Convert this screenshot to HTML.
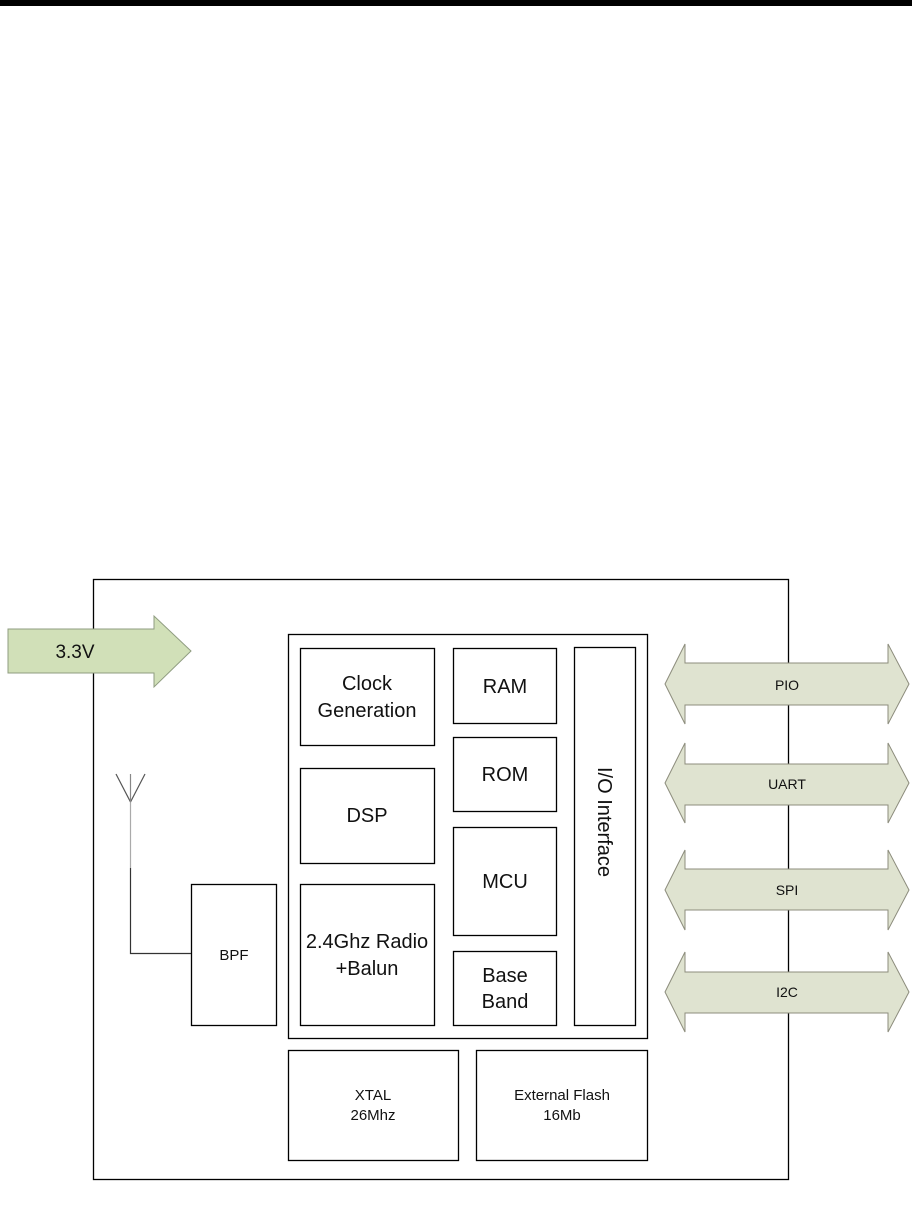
<!DOCTYPE html>
<html><head><style>
html,body{margin:0;padding:0;background:#fff;}
svg{display:block;}
text{font-family:"Liberation Sans",sans-serif;fill:#111;}
</style></head><body>
<svg width="912" height="1207" viewBox="0 0 912 1207" xmlns="http://www.w3.org/2000/svg">
<rect x="0" y="0" width="912" height="6" fill="#000"/>
<g fill="none" stroke="#000" stroke-width="1.3">
<rect x="93.5" y="579.5" width="695" height="600"/>
<rect x="288.5" y="634.5" width="359" height="404"/>
<rect x="300.5" y="648.5" width="134" height="97"/>
<rect x="300.5" y="768.5" width="134" height="95"/>
<rect x="300.5" y="884.5" width="134" height="141"/>
<rect x="453.5" y="648.5" width="103" height="75"/>
<rect x="453.5" y="737.5" width="103" height="74"/>
<rect x="453.5" y="827.5" width="103" height="108"/>
<rect x="453.5" y="951.5" width="103" height="74"/>
<rect x="574.5" y="647.5" width="61" height="378"/>
<rect x="191.5" y="884.5" width="85" height="141"/>
<rect x="288.5" y="1050.5" width="170" height="110"/>
<rect x="476.5" y="1050.5" width="171" height="110"/>
</g>
<g stroke-width="1.2" fill="none">
<line x1="130.5" y1="802" x2="130.5" y2="868" stroke="#aaa"/>
<polyline points="130.5,868 130.5,953.5 191,953.5" stroke="#333"/>
<line x1="116" y1="774" x2="130.5" y2="802" stroke="#555"/>
<line x1="145" y1="774" x2="130.5" y2="802" stroke="#555"/>
<line x1="130.5" y1="774" x2="130.5" y2="802" stroke="#888"/>
</g>
<polygon points="8,629 154,629 154,616 191,651 154,687 154,673 8,673" fill="#d1e0b8" stroke="#8f9c80" stroke-width="1"/>
<text x="75" y="658" font-size="19" text-anchor="middle">3.3V</text>
<g fill="#dfe3d0" stroke="#8c8c7c" stroke-width="1">
<polygon points="665,684 685,644 685,663 888,663 888,644 909,684 888,724 888,705 685,705 685,724"/>
<polygon points="665,783 685,743 685,764 888,764 888,743 909,783 888,823 888,805 685,805 685,823"/>
<polygon points="665,890 685,850 685,869 888,869 888,850 909,890 888,930 888,910 685,910 685,930"/>
<polygon points="665,992 685,952 685,972 888,972 888,952 909,992 888,1032 888,1013 685,1013 685,1032"/>
</g>
<g font-size="14" text-anchor="middle">
<text x="787" y="690">PIO</text>
<text x="787" y="789">UART</text>
<text x="787" y="895">SPI</text>
<text x="787" y="997">I2C</text>
</g>
<g font-size="20" text-anchor="middle">
<text x="367" y="690">Clock</text>
<text x="367" y="717">Generation</text>
<text x="367" y="822">DSP</text>
<text x="367" y="948">2.4Ghz Radio</text>
<text x="367" y="975">+Balun</text>
<text x="505" y="693">RAM</text>
<text x="505" y="781">ROM</text>
<text x="505" y="888">MCU</text>
<text x="505" y="982">Base</text>
<text x="505" y="1008">Band</text>
<text x="0" y="0" transform="translate(598,822) rotate(90)">I/O Interface</text>
</g>
<g font-size="15" text-anchor="middle">
<text x="234" y="960">BPF</text>
<text x="373" y="1100">XTAL</text>
<text x="373" y="1120">26Mhz</text>
<text x="562" y="1100">External Flash</text>
<text x="562" y="1120">16Mb</text>
</g>
</svg>
</body></html>
